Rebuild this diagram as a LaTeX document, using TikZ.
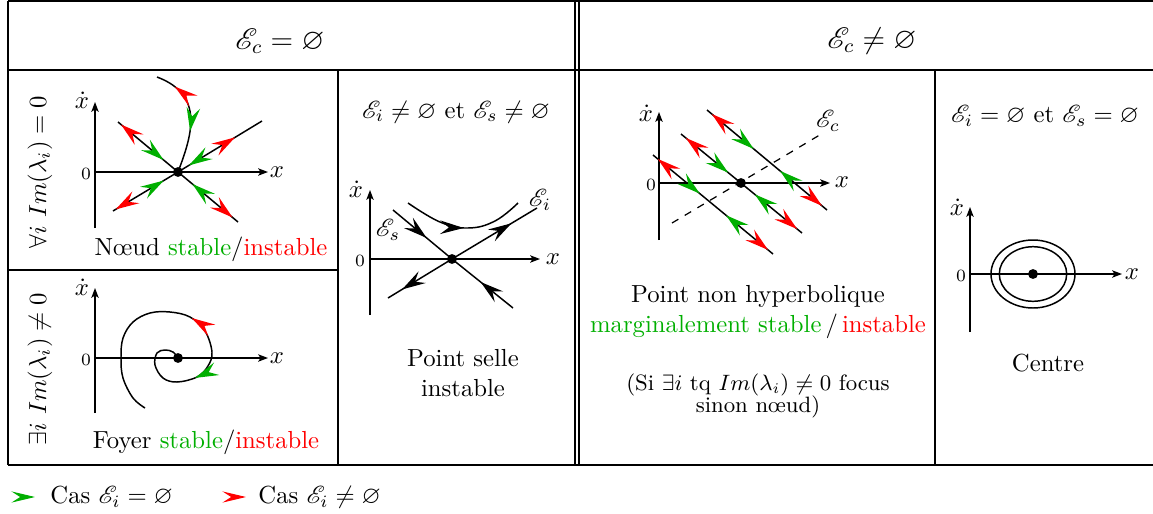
\documentclass[tikz,border=0pt]{standalone}
\usepackage{amssymb}
\usepackage{mathrsfs}
\usetikzlibrary{arrows.meta,decorations.markings}
\definecolor{gcol}{RGB}{0,175,0}
\definecolor{rcol}{RGB}{255,0,0}
\tikzset{
  ah/.tip={Stealth[length=9.5pt,width=5.5pt,inset=3.5pt]},
  ax/.style={line width=0.5pt,-{Stealth[length=4pt,width=3pt,inset=1pt]}},
  grid/.style={line width=0.6pt},
  curve/.style={line width=0.6pt},
  dot/.style={circle,fill=black,inner sep=0pt,minimum size=4pt},
  zero/.style={font=\scriptsize,inner sep=0pt},
  lbl/.style={inner sep=0pt},
  ray/.style 2 args={curve,postaction={decorate},decoration={markings,
     mark=at position #1 with {\arrowreversed[gcol]{ah}},
     mark=at position #2 with {\arrow[rcol]{ah}}}},
  quad/.style={curve,postaction={decorate},decoration={markings,
     mark=at position 0.04 with {\arrowreversed[rcol]{ah}},
     mark=at position 0.39 with {\arrow[gcol]{ah}},
     mark=at position 0.61 with {\arrowreversed[gcol]{ah}},
     mark=at position 0.96 with {\arrow[rcol]{ah}}}},
  blk/.style={curve,postaction={decorate},decoration={markings,
     mark=at position #1 with {\arrow{ah}}}},
}
\begin{document}
\begin{tikzpicture}[x=0.405pt,y=-0.405pt]
\useasboundingbox (0,0) rectangle (1153,513);
% ---------------- table ----------------
\draw[grid] (8,1) -- (1153,1);
\draw[grid] (8,70) -- (1153,70);
\draw[grid] (8,465) -- (1153,465);
\draw[grid] (8,1) -- (8,465);
\draw[grid] (575,1) -- (575,465);
\draw[grid] (579,1) -- (579,465);
\draw[grid] (338,70) -- (338,465);
\draw[grid] (935,70) -- (935,465);
\draw[grid] (8,270) -- (338,270);
% headers
\node (h1) at (280,41) {\large$\mathscr{E}_c=\varnothing$};
\node (h2) at (872,41) {\large$\mathscr{E}_c\neq\varnothing$};
% row labels
\node[rotate=90] (r1) at (40,172) {$\forall i\ Im(\lambda_i)=0$};
\node[rotate=90] (r2) at (40,369) {$\exists i\ Im(\lambda_i)\neq 0$};
% ---------------- cell 1 : noeud ----------------
\coordinate (a1b) at (95,228); \coordinate (a1t) at (95,102);
\coordinate (a1l) at (95,172); \coordinate (a1r) at (268,172);
\draw[ax] (a1b) -- (a1t);
\draw[ax] (a1l) -- (a1r);
\node[lbl] (xd1) at (82,100) {$\dot{x}$};
\node[zero] (z1) at (86,174) {0};
\node[lbl] (xx1) at (277,172) {$x$};
\coordinate (c1) at (178,172);
\coordinate (n1) at (118,122);
\coordinate (n2) at (262,121);
\coordinate (n3) at (113,211);
\coordinate (n4) at (238,222);
\coordinate (n5) at (157,77);
\draw[ray={0.24}{0.95}] (c1) -- (n1);
\draw[ray={0.13}{0.68}] (c1) -- (n2);
\draw[ray={0.22}{0.96}] (c1) -- (n3);
\draw[ray={0.24}{0.91}] (c1) -- (n4);
\draw[ray={0.38}{0.82}] (c1) .. controls (192,135) and (205,95) .. (n5);
\node[dot] (d1) at (c1) {};
\node (t1) at (211,249) {N\oe ud \textcolor{gcol}{stable}/\textcolor{rcol}{instable}};
% ---------------- cell 2 : foyer ----------------
\coordinate (a2b) at (95,413); \coordinate (a2t) at (95,288);
\coordinate (a2l) at (95,358); \coordinate (a2r) at (268,358);
\draw[ax] (a2b) -- (a2t);
\draw[ax] (a2l) -- (a2r);
\node[lbl] (xd2) at (82,287) {$\dot{x}$};
\node[zero] (z2) at (86,360) {0};
\node[lbl] (xx2) at (277,358) {$x$};
\coordinate (c2) at (178,358);
\draw[curve,postaction={decorate},decoration={markings,
   mark=at position 0.50 with {\arrowreversed[rcol]{ah}},
   mark=at position 0.73 with {\arrow[gcol]{ah}}}]
  plot[smooth,tension=0.6] coordinates {(145,408) (133,398) (123,378) (121,358) (123,338) (133,322) (150,313) (170,312) (190,317) (205,331) (212,352) (208,366) (197,377) (177,382) (163,378) (155,365) (157,353) (165,350) (173,352) (178,358)};
\node[dot] (d2) at (c2) {};
\node (t2) at (206,442) {Foyer \textcolor{gcol}{stable}/\textcolor{rcol}{instable}};
% ---------------- cell 3 : selle ----------------
\node (t3a) at (456,112) {$\mathscr{E}_i\neq\varnothing$ et $\mathscr{E}_s\neq\varnothing$};
\coordinate (a3b) at (370,315); \coordinate (a3t) at (370,190);
\coordinate (a3l) at (370,259); \coordinate (a3r) at (540,259);
\draw[ax] (a3b) -- (a3t);
\draw[ax] (a3l) -- (a3r);
\node[lbl] (xd3) at (356,189) {$\dot{x}$};
\node[zero] (z3) at (360,261) {0};
\node[lbl] (xx3) at (553,259) {$x$};
\coordinate (c3) at (452,259);
\coordinate (s1) at (393,210);
\coordinate (s2) at (513,308);
\coordinate (u1) at (388,298);
\coordinate (u2) at (537,208);
\draw[blk=0.57] (s1) -- (c3);
\draw[blk=0.53] (s2) -- (c3);
\draw[blk=0.78] (c3) -- (u1);
\draw[blk=0.70] (c3) -- (u2);
\draw[blk=0.50] plot[smooth,tension=0.7] coordinates {(408,203) (440,222) (468,228) (495,221) (518,203)};
\node[dot] (d3) at (c3) {};
\node[lbl] (ei3) at (540,200) {$\mathscr{E}_i$};
\node[lbl] (es3) at (388,230) {$\mathscr{E}_s$};
\node[align=center] (t3b) at (463,373) {Point selle\\instable};
% ---------------- cell 4 : non hyperbolique ----------------
\coordinate (a4b) at (659,240); \coordinate (a4t) at (659,112);
\coordinate (a4l) at (659,183); \coordinate (a4r) at (830,183);
\draw[ax] (a4b) -- (a4t);
\draw[ax] (a4l) -- (a4r);
\node[lbl] (xd4) at (646,113) {$\dot{x}$};
\node[zero] (z4) at (651,185) {0};
\node[lbl] (xx4) at (842,182) {$x$};
\coordinate (c4) at (741,183);
\coordinate (ec1) at (672,223);
\coordinate (ec2) at (823,133);
\draw[line width=0.5pt,dashed] (ec1) -- (ec2);
\node[lbl] (ec) at (828,121) {$\mathscr{E}_c$};
\coordinate (la) at (653,155); \coordinate (lb) at (773,254);
\coordinate (ma) at (681,134); \coordinate (mb) at (802,233);
\coordinate (ra) at (707,110); \coordinate (rb) at (827,210);
\draw[quad] (la) -- (lb);
\draw[quad] (ma) -- (mb);
\draw[quad] (ra) -- (rb);
\node[dot] (d4) at (c4) {};
\node[align=center] (t4a) at (758,312) {Point non hyperbolique\\\textcolor{gcol}{marginalement stable}\,/\,\textcolor{rcol}{instable}};
\node[font=\small] (t4b) at (758,385) {(Si $\exists i$ tq $Im(\lambda_i)\neq 0$ focus};
\node[font=\small] (t4c) at (758,407) {sinon n\oe ud)};
% ---------------- cell 5 : centre ----------------
\node (t5a) at (1045,116) {$\mathscr{E}_i=\varnothing$ et $\mathscr{E}_s=\varnothing$};
\coordinate (a5b) at (970,332); \coordinate (a5t) at (970,207);
\coordinate (a5l) at (970,274); \coordinate (a5r) at (1122,274);
\draw[ax] (a5b) -- (a5t);
\draw[ax] (a5l) -- (a5r);
\node[lbl] (xd5) at (957,207) {$\dot{x}$};
\node[zero] (z5) at (961,276) {0};
\node[lbl] (xx5) at (1132,274) {$x$};
\coordinate (c5) at (1033,274);
\draw[curve] (c5) ellipse [x radius=42, y radius=34];
\draw[curve] (c5) ellipse [x radius=33.7, y radius=27.3];
\node[dot] (d5) at (c5) {};
\node (t5b) at (1048,363) {Centre};
% ---------------- legend ----------------
\coordinate (lg1a) at (5,497); \coordinate (lg1b) at (35,497);
\coordinate (lg2a) at (215,497); \coordinate (lg2b) at (246,497);
\path[postaction={decorate},decoration={markings,mark=at position 1 with {\arrow[gcol]{Stealth[length=9.5pt,width=4.5pt,inset=3.5pt]}}}] (lg1a) -- (lg1b);
\path[postaction={decorate},decoration={markings,mark=at position 1 with {\arrow[rcol]{Stealth[length=9.5pt,width=4.5pt,inset=3.5pt]}}}] (lg2a) -- (lg2b);
\node[anchor=west,inner sep=0pt] (lt1) at (50,497) {Cas $\mathscr{E}_i=\varnothing$};
\node[anchor=west,inner sep=0pt] (lt2) at (258,497) {Cas $\mathscr{E}_i\neq\varnothing$};
\end{tikzpicture}
\end{document}
